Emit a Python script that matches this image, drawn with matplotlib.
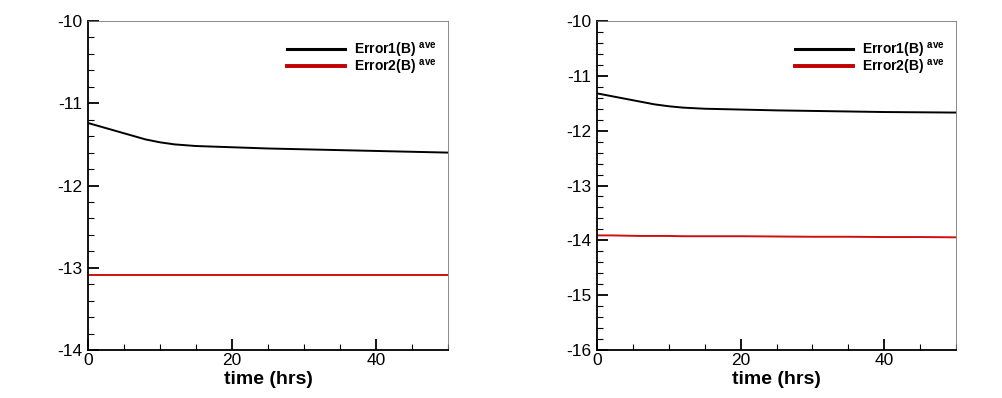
import matplotlib
matplotlib.use("Agg")
import matplotlib.pyplot as plt
from matplotlib.ticker import MultipleLocator

plt.rcParams["font.family"] = ["Liberation Sans", "DejaVu Sans"]
plt.rcParams["mathtext.fontset"] = "custom"
plt.rcParams["mathtext.rm"] = "Liberation Sans:bold"
plt.rcParams["mathtext.bf"] = "Liberation Sans:bold"
plt.rcParams["axes.unicode_minus"] = False

# time (hrs)
time = [0, 2, 4, 6, 8, 10, 12, 15, 20, 25, 30, 35, 40, 45, 50]

# left panel
err1_left = [-11.24, -11.29, -11.34, -11.39, -11.44, -11.475, -11.50, -11.52, -11.535,
             -11.55, -11.56, -11.57, -11.58, -11.59, -11.60]
err2_left = [-13.09] * len(time)

# right panel
err1_right = [-11.32, -11.37, -11.42, -11.47, -11.52, -11.555, -11.58, -11.60, -11.615,
              -11.63, -11.64, -11.65, -11.66, -11.665, -11.67]
err2_right = [-13.91, -13.91, -13.915, -13.92, -13.92, -13.92, -13.925, -13.925, -13.925,
              -13.93, -13.935, -13.935, -13.94, -13.94, -13.945]

ylims = [(-14, -10), (-16, -10)]

fig = plt.figure(figsize=(10.02, 3.98), dpi=100)
ax1 = fig.add_axes([88 / 1002, 1 - 350 / 398, 360 / 1002, 329 / 398])
ax2 = fig.add_axes([597 / 1002, 1 - 350 / 398, 359 / 1002, 329 / 398])

for ax, e1, e2, yl in [(ax1, err1_left, err2_left, ylims[0]),
                       (ax2, err1_right, err2_right, ylims[1])]:
    ax.plot(time, e1, color="black", lw=1.4, label=r"Error1(B) $^{\mathrm{ave}}$")
    ax.plot(time, e2, color="#d01010", lw=1.4, label=r"Error2(B) $^{\mathrm{ave}}$")
    ax.set_xlim(0, 50)
    ax.set_ylim(*yl)
    ax.xaxis.set_major_locator(MultipleLocator(20))
    ax.xaxis.set_minor_locator(MultipleLocator(5))
    ax.yaxis.set_major_locator(MultipleLocator(1))
    ax.yaxis.set_minor_locator(MultipleLocator(0.2))
    ax.tick_params(which="both", direction="in", top=False, right=False, labelsize=12.5)
    ax.tick_params(which="major", length=8, width=1.3, pad=2)
    ax.tick_params(axis="y", which="major", pad=4)
    ax.tick_params(which="minor", length=4, width=0.8)
    for s in ["left", "bottom"]:
        ax.spines[s].set_linewidth(1.3)
    for s in ["top", "right"]:
        ax.spines[s].set_linewidth(0.6)
        ax.spines[s].set_color("#777777")
    ax.set_xlabel("time (hrs)", fontsize=14, fontweight="bold", labelpad=2)
    leg = ax.legend(loc="upper right", bbox_to_anchor=(0.97, 0.94), frameon=False,
                    fontsize=10, handlelength=4.2, labelspacing=-0.15, handletextpad=0.65,
                    borderpad=0, borderaxespad=0)
    for t in leg.get_texts():
        t.set_fontweight("bold")
    for h in leg.get_lines():
        h.set_linewidth(2.2)
    leg.get_lines()[1].set_color("#c00000")
    leg.get_lines()[1].set_linewidth(2.8)

fig.savefig("out.png", dpi=100)
